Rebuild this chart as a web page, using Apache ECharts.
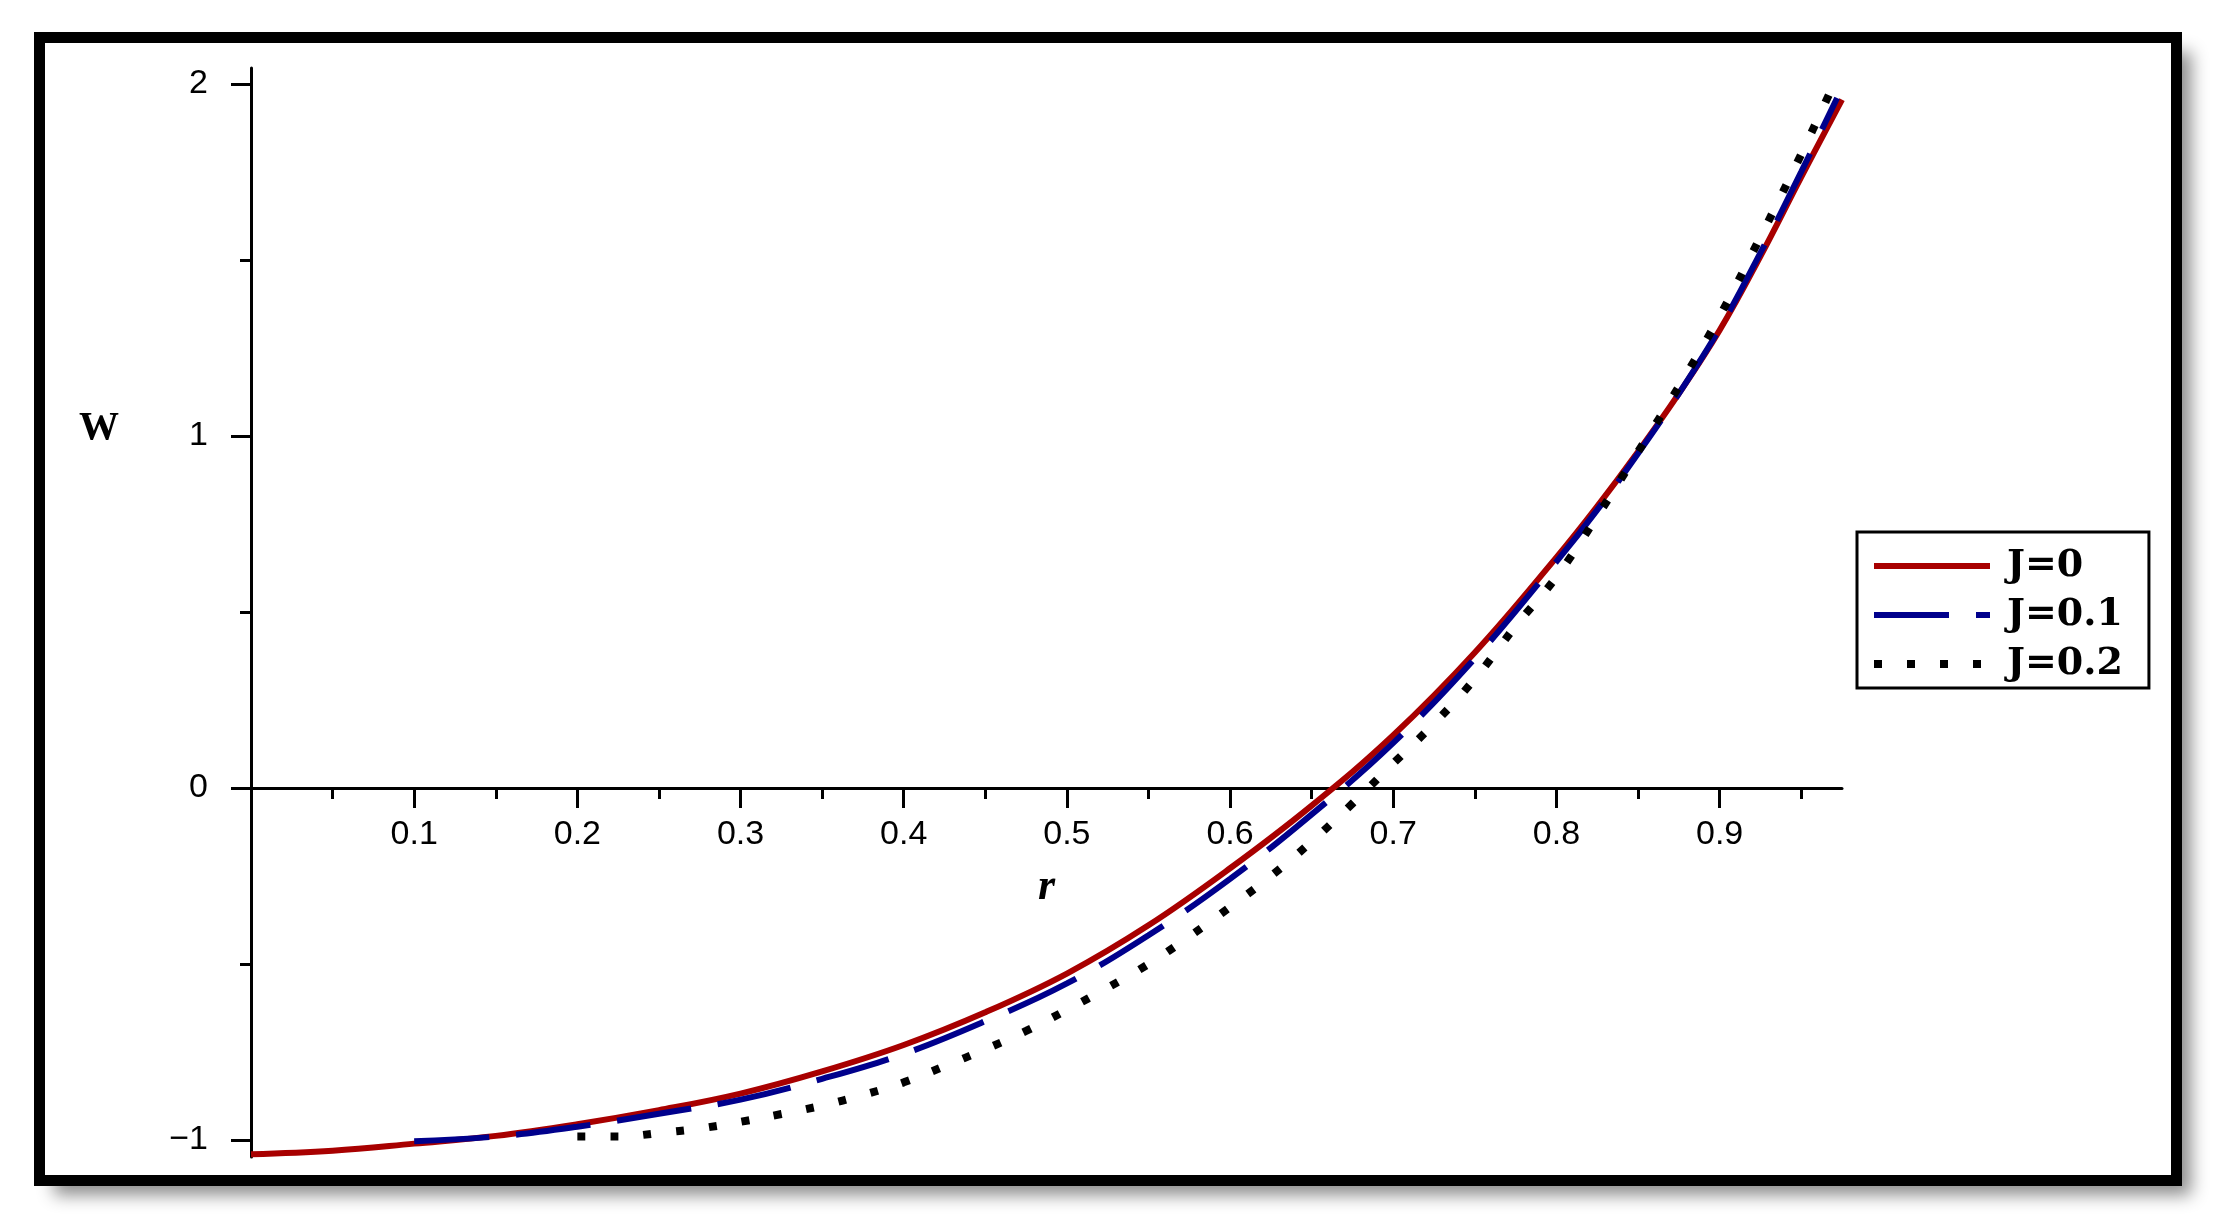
<!DOCTYPE html>
<html>
<head>
<meta charset="utf-8">
<script src="https://cdn.jsdelivr.net/npm/echarts@6.0.0/dist/echarts.min.js"></script>
<style>
	html,body{margin:0;padding:0;background:#fff}
	#main{width:2226px;height:1227px}
</style>
</head>
<body>
<div id="main"></div>
<script>
// J = 0
var rJ0=[0,0.05,0.1,0.15,0.2,0.25,0.3,0.35,0.4,0.45,0.5,0.55,0.6,0.65,0.7,0.75,0.8,0.825,0.85,0.875,0.9,0.925,0.95,0.975];
var wJ0=[-1.04,-1.03,-1.01,-0.988,-0.955,-0.915,-0.868,-0.805,-0.73,-0.637,-0.527,-0.39,-0.228,-0.05,0.15,0.385,0.655,0.8,0.955,1.12,1.3,1.51,1.735,1.955];
// J = 0.1
var rJ1=[0.1,0.15,0.2,0.25,0.3,0.35,0.4,0.45,0.5,0.55,0.6,0.65,0.7,0.75,0.8,0.825,0.85,0.875,0.9,0.925,0.95,0.972];
var wJ1=[-1.003,-0.99,-0.962,-0.925,-0.885,-0.826,-0.755,-0.662,-0.555,-0.418,-0.258,-0.075,0.128,0.368,0.643,0.79,0.95,1.12,1.305,1.52,1.75,1.96];
// J = 0.2
var rJ2=[0.2,0.225,0.25,0.275,0.3,0.325,0.35,0.375,0.4,0.425,0.45,0.475,0.5,0.525,0.55,0.575,0.6,0.625,0.65,0.675,0.7,0.725,0.75,0.775,0.8,0.825,0.85,0.875,0.9,0.925,0.95,0.972];
var wJ2=[-0.99,-0.99,-0.98,-0.967,-0.948,-0.926,-0.902,-0.872,-0.836,-0.79,-0.742,-0.69,-0.63,-0.567,-0.5,-0.422,-0.338,-0.25,-0.152,-0.044,0.07,0.183,0.31,0.46,0.6,0.772,0.955,1.14,1.34,1.565,1.8,2.02];

var names=['J=0','J=0.1','J=0.2'];
var xMajor=[0.1,0.2,0.3,0.4,0.5,0.6,0.7,0.8,0.9];
var xMinor=[0.05,0.15,0.25,0.35,0.45,0.55,0.65,0.75,0.85,0.95];
var yMajor=[-1,0,1,2];
var yMinor=[-0.5,0.5,1.5];

var yMin=-1.048, yMax=2.045;
var gridTop=68, gridBottom=70;
// x axis sits on W=0: shift it up from the grid bottom
var plotH=1227-gridTop-gridBottom;
var zeroShift=-Math.round(plotH*(0-yMin)/(yMax-yMin));

function pairs(xs,ys){
	var out=[];
	for(var i=0;i<xs.length;i++){out.push([xs[i],ys[i]]);}
	return out;
}

var labelFont={fontFamily:'Liberation Sans',fontSize:34,color:'#000'};

var myChart=echarts.init(document.getElementById('main'));
var option={
	animation:false,
	backgroundColor:'#fff',
	grid:{left:251,right:384,top:gridTop,bottom:gridBottom,containLabel:false,outerBoundsMode:'none'},
	graphic:[
		{type:'rect',z:-10,shape:{x:39.5,y:37.5,width:2137,height:1143},
			style:{fill:'#fff',shadowColor:'rgba(0,0,0,0.45)',shadowBlur:16,shadowOffsetX:14,shadowOffsetY:14}},
		{type:'rect',z:100,shape:{x:39.5,y:37.5,width:2137,height:1143},
			style:{fill:null,stroke:'#000',lineWidth:11}},
		{type:'text',z:100,x:99,y:429,
			style:{text:'W',font:'bold 40px "Liberation Serif"',fill:'#000',textAlign:'center',textVerticalAlign:'middle'}}
	],
	legend:{
		orient:'vertical',left:1857,top:532,
		backgroundColor:'#fff',borderColor:'#000',borderWidth:3,
		padding:[15,26,5,13],
		itemWidth:116,itemHeight:28,itemGap:11,
		itemStyle:{color:'rgba(0,0,0,0)',borderWidth:0,opacity:0},
		lineStyle:{width:'inherit'},
		textStyle:{fontFamily:'DejaVu Serif',fontWeight:'bold',fontSize:38,color:'#000',lineHeight:28,padding:[0,0,0,12]},
		data:names
	},
	xAxis:[
		{
			type:'value',min:0,max:0.975,position:'bottom',offset:zeroShift,
			name:'r',nameLocation:'middle',nameGap:78,
			nameTextStyle:{fontFamily:'Liberation Serif',fontStyle:'italic',fontWeight:'bold',fontSize:44,color:'#000'},
			axisLine:{show:true,onZero:false,lineStyle:{color:'#000',width:3}},
			axisTick:{show:true,length:20,customValues:xMajor,lineStyle:{color:'#000',width:3}},
			axisLabel:Object.assign({customValues:xMajor,margin:30,formatter:function(v){return v.toFixed(1);}},labelFont),
			splitLine:{show:false}
		},
		{
			type:'value',min:0,max:0.975,position:'bottom',offset:zeroShift,
			axisLine:{show:false,onZero:false},
			axisTick:{show:true,length:11,customValues:xMinor,lineStyle:{color:'#000',width:3}},
			axisLabel:{show:false},
			splitLine:{show:false}
		}
	],
	yAxis:[
		{
			type:'value',min:yMin,max:yMax,position:'left',
			axisLine:{show:true,lineStyle:{color:'#000',width:3}},
			axisTick:{show:true,length:20,customValues:yMajor,lineStyle:{color:'#000',width:3}},
			axisLabel:Object.assign({customValues:yMajor,margin:43,formatter:function(v){return String(v).replace('-','\u2212');}},labelFont),
			splitLine:{show:false}
		},
		{
			type:'value',min:yMin,max:yMax,position:'left',offset:0,
			axisLine:{show:false},
			axisTick:{show:true,length:11,customValues:yMinor,lineStyle:{color:'#000',width:3}},
			axisLabel:{show:false},
			splitLine:{show:false}
		}
	],
	series:[
		{
			name:names[0],type:'line',z:2,smooth:0.4,symbol:'none',showSymbol:false,
			data:pairs(rJ0,wJ0),
			itemStyle:{color:'#a80000'},
			lineStyle:{color:'#a80000',width:6}
		},
		{
			name:names[1],type:'line',z:3,smooth:0.4,symbol:'none',showSymbol:false,
			data:pairs(rJ1,wJ1),
			itemStyle:{color:'#00008c'},
			lineStyle:{color:'#00008c',width:6,type:[75,27]}
		},
		{
			name:names[2],type:'line',z:4,smooth:0.4,symbol:'none',showSymbol:false,
			data:pairs(rJ2,wJ2),
			itemStyle:{color:'#000'},
			lineStyle:{color:'#000',width:8,type:[8,25],cap:'butt'}
		}
	]
};
myChart.setOption(option);
</script>
</body>
</html>
